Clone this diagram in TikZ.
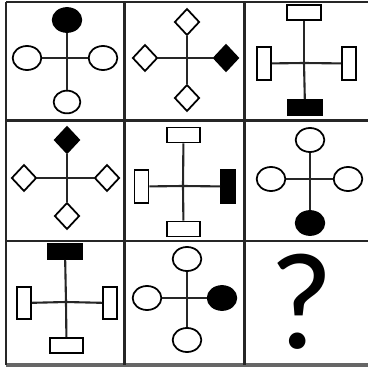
\documentclass[tikz,border=0pt]{standalone}
\usepackage{fontspec}
\newfontfamily\qfont{Carlito}
\usetikzlibrary{shapes.geometric}

\begin{document}
\begin{tikzpicture}[x=0.03cm, y=-0.03cm,
  ring/.style={ellipse, draw, line width=1.5pt, fill=white, inner sep=0pt,
    minimum width=0.86cm, minimum height=0.72cm},
  dot/.style={ring, fill=black},
  gem/.style={diamond, draw, line width=1.5pt, fill=white, inner sep=0pt,
    minimum width=0.75cm, minimum height=0.8cm},
  fgem/.style={gem, fill=black},
  hbar/.style={rectangle, draw, line width=1.5pt, fill=white, inner sep=0pt,
    minimum width=1.0cm, minimum height=0.45cm},
  fhbar/.style={hbar, fill=black},
  vbar/.style={rectangle, draw, line width=1.5pt, fill=white, inner sep=0pt,
    minimum width=0.42cm, minimum height=0.98cm},
  fvbar/.style={vbar, fill=black},
  arm/.style={line width=1.8pt, black!85},
  grid/.style={line width=2.3pt, black!85}]
  \useasboundingbox (0,0) rectangle (368,368);
  % frame
  \draw[grid] (6,2) -- (368,2);
  \draw[grid] (6,120.5) -- (368,120.5);
  \draw[grid] (6,241) -- (368,241);
  \draw[grid, line width=2.6pt, black!60] (6,365) -- (368,365);
  \draw[grid] (6,2) -- (6,365);
  \draw[grid] (124.5,2) -- (124.5,365);
  \draw[grid] (244.5,2) -- (244.5,365);
  % row 1
  \coordinate (a0) at (67,58);
  \node[dot] (a1) at (67,20) {};
  \node[ring] (a2) at (27,58) {};
  \node[ring] (a3) at (103,58) {};
  \node[ring, minimum width=0.8cm, minimum height=0.68cm] (a4) at (67,102) {};
  \coordinate (b0) at (187,58);
  \node[gem] (b1) at (187,22) {};
  \node[gem] (b2) at (145,58) {};
  \node[fgem] (b3) at (226,58) {};
  \node[gem] (b4) at (187,98) {};
  \coordinate (c0) at (304,63);
  \node[hbar] (c1) at (304,12.5) {};
  \node[vbar] (c2) at (264,63.5) {};
  \node[vbar] (c3) at (349,63.5) {};
  \node[fhbar] (c4) at (305,107.5) {};
  % row 2
  \coordinate (d0) at (67,178);
  \node[fgem] (d1) at (67,140) {};
  \node[gem] (d2) at (24,178) {};
  \node[gem] (d3) at (107,178) {};
  \node[gem] (d4) at (67,216) {};
  \coordinate (e0) at (183,186);
  \node[hbar] (e1) at (183.5,135) {};
  \node[vbar] (e2) at (141.5,186.5) {};
  \node[fvbar] (e3) at (228,186.5) {};
  \node[hbar] (e4) at (183.5,229) {};
  \coordinate (f0) at (310,179);
  \node[ring] (f1) at (310,140) {};
  \node[ring] (f2) at (271,179) {};
  \node[ring] (f3) at (348,179) {};
  \node[dot] (f4) at (310,223) {};
  % row 3
  \coordinate (g0) at (66,302);
  \node[fhbar] (g1) at (65,251.5) {};
  \node[vbar] (g2) at (24,303) {};
  \node[vbar] (g3) at (110,303) {};
  \node[hbar] (g4) at (66.5,345.5) {};
  \coordinate (h0) at (187,298);
  \node[ring] (h1) at (187,259) {};
  \node[ring] (h2) at (147,298) {};
  \node[dot] (h3) at (222,298) {};
  \node[ring] (h4) at (187,340) {};
  \node[inner sep=0pt, font=\qfont\fontsize{118}{118}\selectfont] (q) at (302,302) {?};
  % arms
  \foreach \c in {a,b,c,d,e,f,g,h}
    \foreach \i in {1,...,4}
      \draw[arm] (\c0) -- (\c\i);
\end{tikzpicture}
\end{document}
